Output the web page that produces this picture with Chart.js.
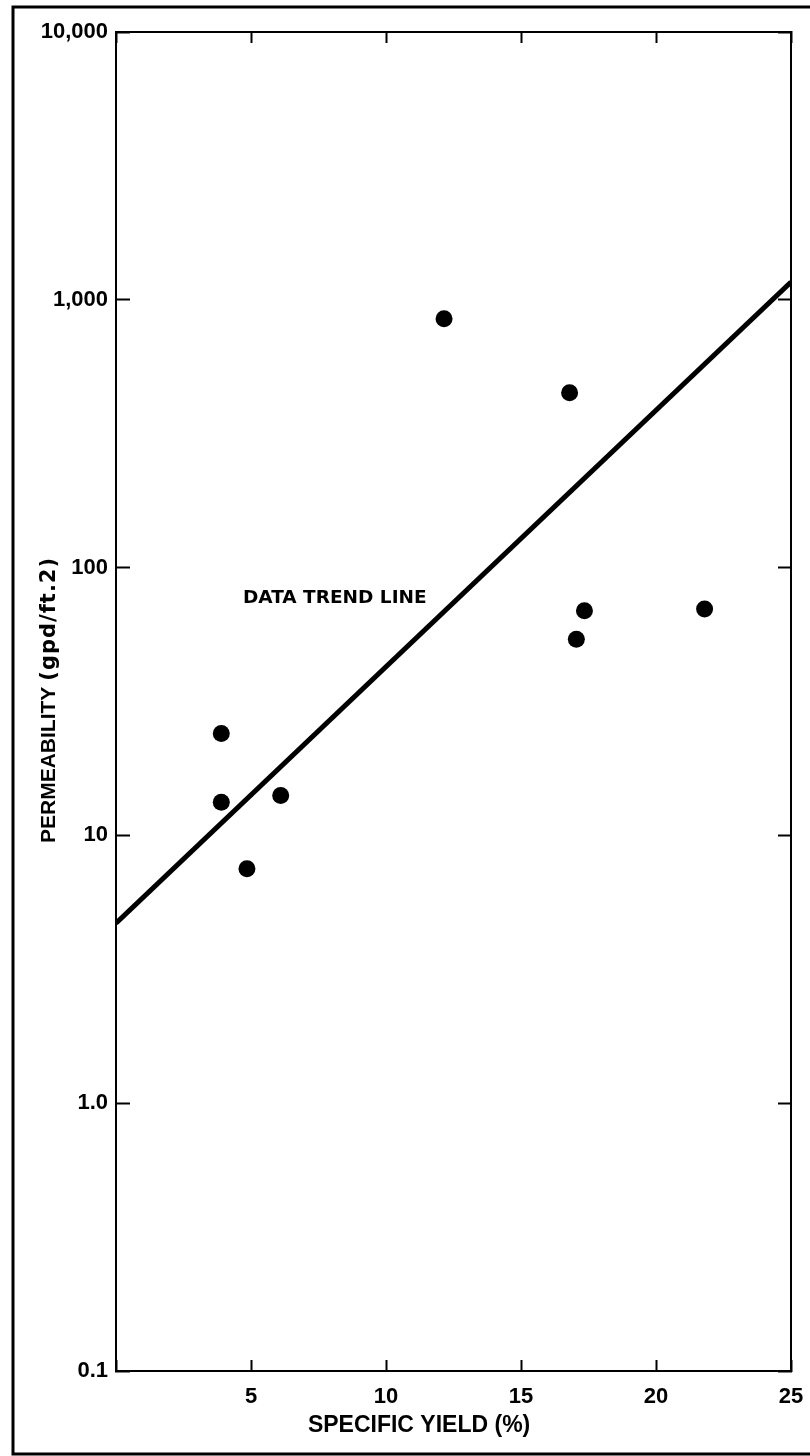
<!DOCTYPE html>
<html>
<head>
<meta charset="utf-8">
<title>Permeability vs Specific Yield</title>
<script src="https://cdn.jsdelivr.net/npm/chart.js@4.4.1/dist/chart.umd.min.js"></script>
<style>
  html, body { margin: 0; padding: 0; background: #fff; }
  canvas { display: block; }
</style>
</head>
<body>
<canvas id="chartPermeability" width="810" height="1456"></canvas>
<script>
// measured points (specific yield %, permeability gpd/ft2)
const specificYield = [3.9, 3.9, 4.85, 6.1, 12.15, 16.8, 17.05, 17.35, 21.8];
const permeability = [24, 13.3, 7.5, 14.1, 850, 450, 54, 69, 70];

// data trend line end points
const trendYield = [0, 25];
const trendPermeability = [4.7, 1165];

const xTicks = [0, 5, 10, 15, 20, 25];
const xTickLabels = ['', '5', '10', '15', '20', '25'];
const yTicks = [0.1, 1, 10, 100, 1000, 10000];
const yTickLabels = ['0.1', '1.0', '10', '100', '1,000', '10,000'];

const xTitle = 'SPECIFIC YIELD (%)';
const yTitle = 'PERMEABILITY';
const yTitleUnits = '(gpd/ft.2)';
const trendLabel = 'DATA TREND LINE';

const family = "'Liberation Sans', Arial, Helvetica, sans-serif";
const wideFamily = "'DejaVu Sans', Verdana, sans-serif";
Chart.defaults.font.family = family;
Chart.defaults.color = '#000';

const tickFont = { size: 22, weight: 'bold' };

function gridOpts(len) {
  return { drawOnChartArea: false, tickLength: -len, tickWidth: 2, color: '#000' };
}
const borderOpts = { display: true, color: '#000', width: 2 };

// keep the plot box where it is in the figure, labels may overflow
function noPad(s) {
  s.paddingLeft = 0;
  s.paddingRight = 0;
  s.paddingTop = 0;
  s.paddingBottom = 0;
}

// titles, label and the outer frame
const textos = {
  id: 'textos',
  afterDraw(chart) {
    const ctx = chart.ctx;
    const area = chart.chartArea;
    const x = chart.scales.x;
    const y = chart.scales.y;
    const spacing = 'letterSpacing' in ctx;
    ctx.save();
    ctx.fillStyle = '#000';
    ctx.strokeStyle = '#000';
    ctx.lineWidth = 3;
    ctx.beginPath();
    ctx.moveTo(810, 7);
    ctx.lineTo(13, 7);
    ctx.lineTo(13, 1454);
    ctx.lineTo(810, 1454);
    ctx.stroke();

    ctx.font = 'bold 18.5px ' + wideFamily;
    ctx.textAlign = 'left';
    ctx.textBaseline = 'middle';
    ctx.fillText(trendLabel, x.getPixelForValue(4.7), y.getPixelForValue(77));

    ctx.font = 'bold 23px ' + family;
    ctx.textAlign = 'center';
    ctx.fillText(xTitle, area.left + (area.right - area.left) * 0.449, 1426);

    ctx.translate(55, 843);
    ctx.rotate(-Math.PI / 2);
    ctx.font = 'bold 21px ' + family;
    ctx.textAlign = 'left';
    ctx.textBaseline = 'alphabetic';
    ctx.fillText(yTitle, 0, 0);
    const w = ctx.measureText(yTitle).width + 6;
    ctx.font = 'bold 21px ' + wideFamily;
    if (spacing) ctx.letterSpacing = '1px';
    ctx.fillText(yTitleUnits, w, 0);
    ctx.restore();
  }
};

const ctx = document.getElementById('chartPermeability');

new Chart(ctx, {
  type: 'scatter',
  data: {
    datasets: [{
      label: 'Data',
      data: specificYield.map((v, i) => ({ x: v, y: permeability[i] })),
      pointRadius: 8.5,
      pointBackgroundColor: '#000',
      pointBorderWidth: 0
    }, {
      label: 'Data trend line',
      data: trendYield.map((v, i) => ({ x: v, y: trendPermeability[i] })),
      showLine: true,
      borderColor: '#000',
      borderWidth: 5,
      pointRadius: 0
    }]
  },
  options: {
    responsive: false,
    animation: false,
    layout: { padding: { top: 32, left: 0, right: 19, bottom: 0 } },
    plugins: {
      legend: { display: false },
      tooltip: { enabled: false }
    },
    scales: {
      x: {
        type: 'linear',
        position: 'bottom',
        min: 0,
        max: 25,
        afterBuildTicks: s => { s.ticks = xTicks.map(v => ({ value: v })); },
        ticks: {
          callback: (v, i) => xTickLabels[i],
          font: tickFont,
          color: '#000',
          padding: 24,
          maxRotation: 0,
          autoSkip: false
        },
        grid: gridOpts(11),
        border: borderOpts,
        afterFit: s => { s.height = 85; noPad(s); }
      },
      x2: {
        type: 'linear',
        position: 'top',
        min: 0,
        max: 25,
        afterBuildTicks: s => { s.ticks = xTicks.map(v => ({ value: v })); },
        ticks: { display: false },
        grid: gridOpts(11),
        border: borderOpts,
        afterFit: s => { s.height = 0; noPad(s); }
      },
      y: {
        type: 'logarithmic',
        position: 'left',
        min: 0.1,
        max: 10000,
        afterBuildTicks: s => { s.ticks = yTicks.map(v => ({ value: v })); },
        ticks: {
          callback: (v, i) => yTickLabels[i],
          font: tickFont,
          color: '#000',
          padding: 22,
          autoSkip: false
        },
        grid: gridOpts(14),
        border: borderOpts,
        afterFit: s => { s.width = 116; noPad(s); }
      },
      y2: {
        type: 'logarithmic',
        position: 'right',
        min: 0.1,
        max: 10000,
        afterBuildTicks: s => { s.ticks = yTicks.map(v => ({ value: v })); },
        ticks: { display: false },
        grid: gridOpts(13),
        border: borderOpts,
        afterFit: s => { s.width = 0; noPad(s); }
      }
    }
  },
  plugins: [textos]
});
</script>
</body>
</html>
